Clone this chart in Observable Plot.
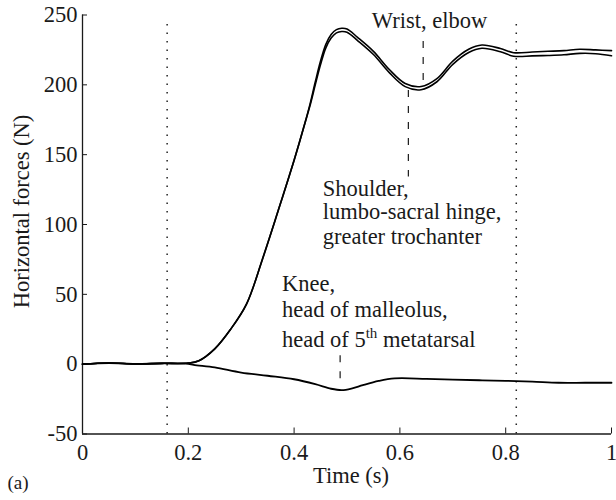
<!DOCTYPE html>
<html>
<head>
<meta charset="utf-8">
<script src="https://cdn.jsdelivr.net/npm/d3@7"></script>
<script src="https://cdn.jsdelivr.net/npm/@observablehq/plot@0.6"></script>
<style>
  html, body { margin: 0; padding: 0; background: white; }
  svg, svg text, svg tspan { font-family: "Liberation Serif", "Times New Roman", serif !important; }
</style>
</head>
<body>
<div id="chart"></div>
<script>
// Upper (double) curves: shoulder / lumbo-sacral / trochanter and wrist / elbow
const timeUpper = [0, 0.05, 0.1, 0.15, 0.2, 0.22, 0.25, 0.28, 0.31, 0.34, 0.37, 0.4, 0.42, 0.43, 0.44, 0.45, 0.46, 0.47, 0.48, 0.49, 0.5, 0.52, 0.55, 0.58, 0.61, 0.64, 0.67, 0.7, 0.73, 0.755, 0.79, 0.815, 0.85, 0.88, 0.91, 0.94, 0.97, 1.0];
const forceUpperA = [0, 0.8, 0.2, 0.6, 0.8, 2.5, 11, 25, 43, 75, 110, 146, 172, 186, 202, 217, 229, 236, 239.5, 240.5, 240, 234, 224, 211, 201, 198.8, 204.5, 217, 225.5, 228.5, 226, 223, 223.5, 224, 224.5, 225.5, 225, 224.5];
const forceUpperB = [0, 0.8, 0.2, 0.6, 0.8, 2.5, 11, 25, 43, 75, 110, 146, 172, 185, 200, 214.5, 226.5, 233.5, 237.2, 238.2, 237.7, 231.7, 221.7, 208.7, 198.7, 196.5, 202.2, 214.7, 223.2, 226.2, 223.7, 220.5, 220.7, 221, 221.5, 222.5, 222.3, 220.8];

// Lower curve: knee / malleolus / 5th metatarsal
const timeLower = [0, 0.05, 0.1, 0.15, 0.2, 0.21, 0.25, 0.3, 0.35, 0.4, 0.44, 0.47, 0.49, 0.51, 0.53, 0.56, 0.59, 0.65, 0.7, 0.75, 0.8, 0.85, 0.9, 0.95, 1.0];
const forceLower = [0, 0.8, 0.2, 0.6, 0.3, -0.5, -2.3, -6, -8.3, -10.8, -14.3, -17.6, -18.6, -17.3, -15, -12, -10.2, -10.5, -11, -11.5, -11.9, -12.5, -13.3, -13.3, -13.3];

// Vertical reference lines
const dottedTimes = [0.16, 0.82];
const dottedTop = 245;
const dashedTimes = [0.644, 0.616, 0.487];
const dashedFrom = [231, 196, 6];
const dashedTo = [199, 134, -13];

// Annotations (left edge time, baseline force)
const annotText = ["Wrist, elbow", "Shoulder,", "lumbo-sacral hinge,", "greater trochanter", "Knee,", "head of malleolus,", "head of 5th metatarsal"];
const annotTime = [0.547, 0.454, 0.454, 0.454, 0.377, 0.377, 0.377];
const annotForce = [240.7, 120.7, 103.9, 85.7, 52.4, 33.8, 12.4];

// Axes
const xTicks = [0, 0.2, 0.4, 0.6, 0.8, 1];
const yTicks = [-50, 0, 50, 100, 150, 200, 250];
const xLabel = "Time (s)";
const yLabel = "Horizontal forces (N)";
const panelLabel = "(a)";

const FONT = "Liberation Serif, Times New Roman, serif";
const FS = 22.5;
const INK = "#1a1a1a";

const chart = Plot.plot({
  width: 616,
  height: 500,
  marginLeft: 82,
  marginRight: 5,
  marginTop: 14.5,
  marginBottom: 66.5,
  style: {fontSize: FS + "px", color: INK, background: "white", overflow: "visible"},
  x: {domain: [0, 1]},
  y: {domain: [-50, 250]},
  marks: [
    Plot.axisX({ticks: xTicks, tickSize: -6, tickPadding: 16.5, tickFormat: d => String(d), label: null, fontSize: FS, fontFamily: FONT}),
    Plot.axisY({ticks: yTicks, tickSize: -5, tickPadding: 10, tickFormat: d => String(d), label: null, fontSize: FS, fontFamily: FONT}),
    Plot.ruleX([0], {stroke: INK, strokeWidth: 1.3}),
    Plot.ruleY([-50], {stroke: INK, strokeWidth: 1.3}),
    Plot.ruleX(dottedTimes, {y1: -50, y2: dottedTop, stroke: "#222", strokeWidth: 1.5, strokeDasharray: "1.5,7"}),
    Plot.ruleX(dashedTimes, {x: d => d, y1: (d, i) => dashedFrom[i], y2: (d, i) => dashedTo[i], stroke: INK, strokeWidth: 1.2, strokeDasharray: "7,9"}),
    Plot.line(timeLower, {x: d => d, y: (d, i) => forceLower[i], curve: "catmull-rom", stroke: "black", strokeWidth: 1.8}),
    Plot.line(timeUpper, {x: d => d, y: (d, i) => forceUpperA[i], curve: "catmull-rom", stroke: "black", strokeWidth: 1.6}),
    Plot.line(timeUpper, {x: d => d, y: (d, i) => forceUpperB[i], curve: "catmull-rom", stroke: "black", strokeWidth: 1.6}),
    Plot.text(annotText, {x: (d, i) => annotTime[i], y: (d, i) => annotForce[i], text: d => d, textAnchor: "start", lineAnchor: "bottom", fontSize: FS, fontFamily: FONT, fill: INK}),
    Plot.text([xLabel], {frameAnchor: "bottom", dx: 4, dy: 48.5, textAnchor: "middle", lineAnchor: "bottom", fontSize: FS, fontFamily: FONT, fill: INK}),
    Plot.text([yLabel], {frameAnchor: "left", rotate: -90, dx: -54, dy: -13, textAnchor: "middle", lineAnchor: "bottom", fontSize: FS, fontFamily: FONT, fill: INK}),
    Plot.text([panelLabel], {frameAnchor: "bottom-left", dx: -75, dy: 54.5, textAnchor: "start", lineAnchor: "bottom", fontSize: FS * 0.85, fontFamily: FONT, fill: INK})
  ]
});
chart.setAttribute("font-family", FONT);

// superscript "th"
chart.querySelectorAll("text").forEach(t => {
  if (t.textContent === "head of 5th metatarsal") {
    t.textContent = "";
    const ns = "http://www.w3.org/2000/svg";
    const a = document.createElementNS(ns, "tspan"); a.textContent = "head of 5"; t.appendChild(a);
    const b = document.createElementNS(ns, "tspan"); b.textContent = "th"; b.setAttribute("dy", "-9"); b.setAttribute("font-size", "15"); t.appendChild(b);
    const c = document.createElementNS(ns, "tspan"); c.textContent = " metatarsal"; c.setAttribute("dy", "9"); t.appendChild(c);
  }
});

document.getElementById("chart").appendChild(chart);
</script>
</body>
</html>
